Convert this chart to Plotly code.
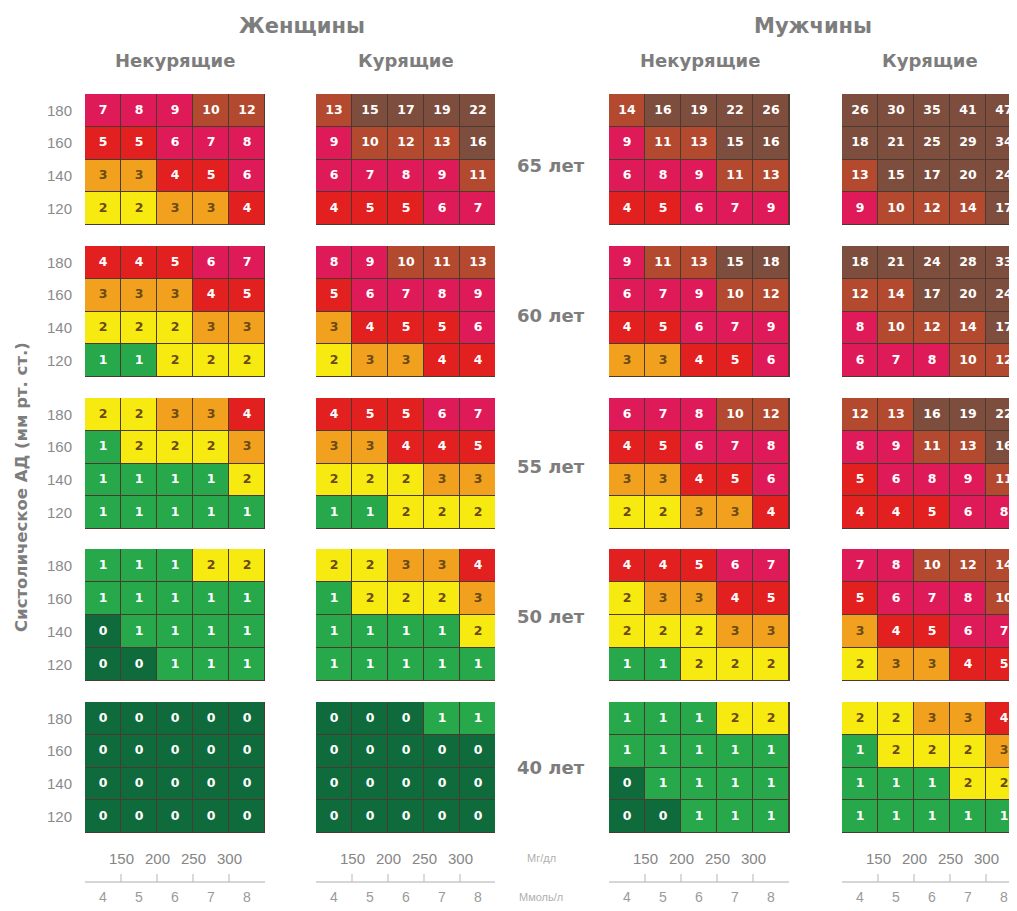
import plotly.graph_objects as go

# ---------------- data ----------------
SBP_LABELS = ["180", "160", "140", "120"]          # rows, top to bottom
CHOL_MMOL = [4, 5, 6, 7, 8]                        # columns
CHOL_MGDL = [150, 200, 250, 300]
AGE_LABELS = ["65 лет", "60 лет", "55 лет", "50 лет", "40 лет"]
SEX_LABELS = ["Женщины", "Мужчины"]
SMOKING_LABELS = ["Некурящие", "Курящие"]
Y_TITLE = "Систолическое АД (мм рт. ст.)"
MGDL_LABEL = "Мг/дл"
MMOL_LABEL = "Ммоль/л"

# each list: one 4x5 grid per age (65, 60, 55, 50, 40), rows 180..120
women_nonsmoking = [
    [[7, 8, 9, 10, 12], [5, 5, 6, 7, 8], [3, 3, 4, 5, 6], [2, 2, 3, 3, 4]],
    [[4, 4, 5, 6, 7], [3, 3, 3, 4, 5], [2, 2, 2, 3, 3], [1, 1, 2, 2, 2]],
    [[2, 2, 3, 3, 4], [1, 2, 2, 2, 3], [1, 1, 1, 1, 2], [1, 1, 1, 1, 1]],
    [[1, 1, 1, 2, 2], [1, 1, 1, 1, 1], [0, 1, 1, 1, 1], [0, 0, 1, 1, 1]],
    [[0, 0, 0, 0, 0], [0, 0, 0, 0, 0], [0, 0, 0, 0, 0], [0, 0, 0, 0, 0]],
]
women_smoking = [
    [[13, 15, 17, 19, 22], [9, 10, 12, 13, 16], [6, 7, 8, 9, 11], [4, 5, 5, 6, 7]],
    [[8, 9, 10, 11, 13], [5, 6, 7, 8, 9], [3, 4, 5, 5, 6], [2, 3, 3, 4, 4]],
    [[4, 5, 5, 6, 7], [3, 3, 4, 4, 5], [2, 2, 2, 3, 3], [1, 1, 2, 2, 2]],
    [[2, 2, 3, 3, 4], [1, 2, 2, 2, 3], [1, 1, 1, 1, 2], [1, 1, 1, 1, 1]],
    [[0, 0, 0, 1, 1], [0, 0, 0, 0, 0], [0, 0, 0, 0, 0], [0, 0, 0, 0, 0]],
]
men_nonsmoking = [
    [[14, 16, 19, 22, 26], [9, 11, 13, 15, 16], [6, 8, 9, 11, 13], [4, 5, 6, 7, 9]],
    [[9, 11, 13, 15, 18], [6, 7, 9, 10, 12], [4, 5, 6, 7, 9], [3, 3, 4, 5, 6]],
    [[6, 7, 8, 10, 12], [4, 5, 6, 7, 8], [3, 3, 4, 5, 6], [2, 2, 3, 3, 4]],
    [[4, 4, 5, 6, 7], [2, 3, 3, 4, 5], [2, 2, 2, 3, 3], [1, 1, 2, 2, 2]],
    [[1, 1, 1, 2, 2], [1, 1, 1, 1, 1], [0, 1, 1, 1, 1], [0, 0, 1, 1, 1]],
]
men_smoking = [
    [[26, 30, 35, 41, 47], [18, 21, 25, 29, 34], [13, 15, 17, 20, 24], [9, 10, 12, 14, 17]],
    [[18, 21, 24, 28, 33], [12, 14, 17, 20, 24], [8, 10, 12, 14, 17], [6, 7, 8, 10, 12]],
    [[12, 13, 16, 19, 22], [8, 9, 11, 13, 16], [5, 6, 8, 9, 11], [4, 4, 5, 6, 8]],
    [[7, 8, 10, 12, 14], [5, 6, 7, 8, 10], [3, 4, 5, 6, 7], [2, 3, 3, 4, 5]],
    [[2, 2, 3, 3, 4], [1, 2, 2, 2, 3], [1, 1, 1, 2, 2], [1, 1, 1, 1, 1]],
]
PANELS = [women_nonsmoking, women_smoking, men_nonsmoking, men_smoking]

# ---------------- style ----------------
PAGE_W, PAGE_H = 1017, 911
OFF = 8                                   # default page margin of the html body
W, H = PAGE_W - OFF, PAGE_H - OFF
RISK_COLORS = ["#0f6a3c", "#27a84b", "#f7ea10", "#f2a11e", "#e2201f",
               "#df1a58", "#b3492e", "#7d4d3d"]
DARK_TEXT = "#6a4a14"
GRAY = "#7d7d7d"
HEAD_FONT = "DejaVu Sans, sans-serif"
NUM_FONT = "DejaVu Sans, sans-serif"
NARROW = "Liberation Sans Narrow, Liberation Sans, sans-serif"

COL_PX = [(85, 265), (316, 495), (609, 790), (842, 1022)]
ROW_PX = [(94, 225), (246, 377), (398, 529), (549, 681), (702, 833)]
SEX_X_PX = [302, 813]
CELL_W = 36.0


def risk_class(v):
    if v <= 3:
        return v
    if v <= 5:
        return 4
    if v <= 9:
        return 5
    if v <= 14:
        return 6
    return 7


colorscale = []
n = len(RISK_COLORS)
for i, c in enumerate(RISK_COLORS):
    colorscale.append([i / n, c])
    colorscale.append([(i + 1) / n, c])


def fx(px):
    return (px - OFF) / W


def fy(py):
    return 1 - (py - OFF) / H


def axid(letter, k):
    return letter if k == 1 else f"{letter}{k}"


fig = go.Figure()
layout = {}
for r in range(5):
    for c in range(4):
        k = r * 4 + c + 1
        grid = PANELS[c][r]
        xa, ya = axid("x", k), axid("y", k)
        fig.add_trace(go.Heatmap(
            z=[[risk_class(v) for v in row] for row in grid],
            x=CHOL_MMOL, y=SBP_LABELS,
            colorscale=colorscale, zmin=-0.5, zmax=n - 0.5,
            showscale=False, xgap=1, ygap=1, hoverinfo="skip",
            xaxis=xa, yaxis=ya,
        ))
        xs, ys, ts, cs = [], [], [], []
        for i, row in enumerate(grid):
            for j, v in enumerate(row):
                xs.append(CHOL_MMOL[j])
                ys.append(SBP_LABELS[i])
                ts.append(str(v))
                cs.append(DARK_TEXT if v in (2, 3) else "white")
        fig.add_trace(go.Scatter(
            x=xs, y=ys, text=ts, mode="text",
            textfont=dict(family=NUM_FONT, size=12.5, color=cs, weight="bold"),
            hoverinfo="skip", showlegend=False, xaxis=xa, yaxis=ya,
        ))
        x0, x1 = COL_PX[c]
        x1v = min(x1, PAGE_W)
        xmax = CHOL_MMOL[0] - 0.5 + (x1v - x0) / CELL_W
        y0, y1 = ROW_PX[r]
        sfx = "" if k == 1 else str(k)
        layout["xaxis" + sfx] = dict(
            domain=[fx(x0), fx(x1v)], range=[CHOL_MMOL[0] - 0.5, xmax],
            anchor=ya, showticklabels=False, showgrid=False, zeroline=False,
            ticks="", fixedrange=True,
        )
        layout["yaxis" + sfx] = dict(
            domain=[fy(y1), fy(y0)], range=[3.5, -0.5], type="category",
            anchor=xa, showgrid=False, zeroline=False, fixedrange=True,
            showticklabels=(c == 0), ticks="outside" if c == 0 else "",
            ticklen=9, tickcolor="rgba(0,0,0,0)",
            tickfont=dict(family=NARROW, size=15, color="#8a8a8a"),
        )

ann = []
shapes = []
CM = dict(xanchor="center", yanchor="middle", showarrow=False)
# sex headers
for s, lab in enumerate(SEX_LABELS):
    ann.append(dict(text=f"<b>{lab}</b>", xref="paper", yref="paper",
                    x=fx(SEX_X_PX[s]), y=fy(26),
                    font=dict(family=HEAD_FONT, size=21, color=GRAY), **CM))
# smoking headers
for c in range(4):
    ann.append(dict(text=f"<b>{SMOKING_LABELS[c % 2]}</b>",
                    xref=axid("x", c + 1) + " domain", yref="paper", x=0.5, y=fy(60),
                    font=dict(family=HEAD_FONT, size=18, color=GRAY), **CM))
# age labels
for r, lab in enumerate(AGE_LABELS):
    y0, y1 = ROW_PX[r]
    ann.append(dict(text=f"<b>{lab}</b>", xref="paper", yref="paper",
                    x=fx(551), y=fy((y0 + y1) / 2 + 6 - 1.5 * r),
                    font=dict(family=HEAD_FONT, size=18, color=GRAY), **CM))
# y title
ann.append(dict(text=f"<b>{Y_TITLE}</b>", xref="paper", yref="paper",
                x=fx(22), y=fy(487), textangle=-90,
                font=dict(family=HEAD_FONT, size=16.5, color=GRAY), **CM))
# bottom cholesterol scales
LINE_Y, MG_Y, MMOL_Y = 882, 858, 897
for c in range(4):
    k = 16 + c + 1
    xa = axid("x", k)
    shapes.append(dict(type="line", xref=xa, yref="paper",
                       x0=CHOL_MMOL[0] - 0.5, x1=CHOL_MMOL[-1] + 0.5,
                       y0=fy(LINE_Y), y1=fy(LINE_Y),
                       line=dict(color="#c8c8c8", width=1.5)))
    for i, mg in enumerate(CHOL_MGDL):
        xm = (CHOL_MMOL[i] + CHOL_MMOL[i + 1]) / 2
        shapes.append(dict(type="line", xref=xa, yref="paper", x0=xm, x1=xm,
                           y0=fy(LINE_Y), y1=fy(LINE_Y - 8),
                           line=dict(color="#b5b5b5", width=1)))
        ann.append(dict(text=str(mg), xref=xa, yref="paper", x=xm, y=fy(MG_Y),
                        font=dict(family=NARROW, size=15, color="#858585"), **CM))
    for v in CHOL_MMOL:
        ann.append(dict(text=str(v), xref=xa, yref="paper", x=v, y=fy(MMOL_Y),
                        font=dict(family=NARROW, size=14, color="#9a9a9a"), **CM))
ann.append(dict(text=MGDL_LABEL, xref="paper", yref="paper", x=fx(541), y=fy(858),
                font=dict(family=NARROW, size=11, color="#b0b0b0"), **CM))
ann.append(dict(text=MMOL_LABEL, xref="paper", yref="paper", x=fx(541), y=fy(897),
                font=dict(family=NARROW, size=11, color="#b0b0b0"), **CM))

fig.update_layout(
    width=W, height=H, margin=dict(l=0, r=0, t=0, b=0),
    paper_bgcolor="white", plot_bgcolor="#4a3a30",
    showlegend=False, annotations=ann, shapes=shapes,
    font=dict(family=NUM_FONT),
    **layout,
)
fig.write_html("out.html")
